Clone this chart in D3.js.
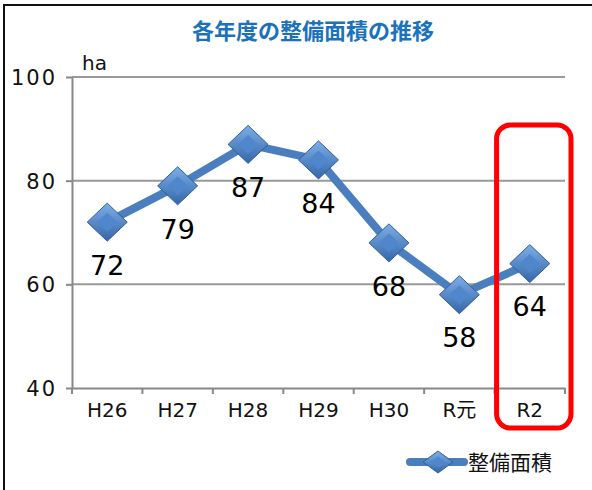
<!DOCTYPE html>
<html>
<head>
<meta charset="utf-8">
<script src="https://cdn.jsdelivr.net/npm/d3@7"></script>
<style>
  body { margin: 0; background: #fff; }
  svg { display: block; }
</style>
</head>
<body>
<div id="chart"></div>
<script>
(function () {

  const years = ['H26', 'H27', 'H28', 'H29', 'H30', 'R元', 'R2'];
  const area = [72, 79, 87, 84, 68, 58, 64];
  const yTicks = [40, 60, 80, 100];
  const highlight = 'R2';

  const width = 592,
    height = 490,
    margin = { top: 77, right: 27, bottom: 102, left: 72 },
    chartWidth = width - margin.left - margin.right,
    chartHeight = height - margin.top - margin.bottom;

  const x = d3.scaleBand().range([0, chartWidth]).domain(years);
  const y = d3.scaleLinear().range([chartHeight, 0]).domain([40, 100]);

  const svg = d3
    .select('#chart')
    .append('svg')
    .attr('width', width)
    .attr('height', height);

  // gradient for the bevelled diamonds
  const defs = svg.append('defs');
  const grad = defs.append('linearGradient')
    .attr('id', 'dia')
    .attr('x1', 0).attr('y1', 0).attr('x2', 0).attr('y2', 1);
  grad.append('stop').attr('offset', '0%').attr('stop-color', '#7eaee6');
  grad.append('stop').attr('offset', '100%').attr('stop-color', '#3467a8');

  // outer frame (only left/top visible)
  svg.append('path')
    .attr('d', `M4,${height + 5} L4,5 L${width + 5},5`)
    .attr('fill', 'none')
    .attr('stroke', '#111')
    .attr('stroke-width', 2);

  svg.append('text')
    .attr('x', 313)
    .attr('y', 39)
    .attr('text-anchor', 'middle')
    .attr('fill', '#1a72bd')
    .style('font-family', '"Noto Sans CJK JP", sans-serif')
    .style('font-weight', 'bold')
    .style('font-size', '22px')
    .text('各年度の整備面積の推移');

  const chart = svg
    .append('g')
    .attr('transform', `translate(${margin.left}, ${margin.top})`);

  // gridlines
  chart.append('g')
    .selectAll('line')
    .data(yTicks.filter(d => d > 40))
    .enter()
    .append('line')
    .attr('x1', 0)
    .attr('x2', chartWidth)
    .attr('y1', d => y(d))
    .attr('y2', d => y(d))
    .attr('stroke', '#999')
    .attr('stroke-width', 2);

  // Y axis
  const yAxis = d3.axisLeft(y).tickValues(yTicks).tickSize(6).tickSizeOuter(0);
  const gy = chart.append('g').call(yAxis);
  gy.select('.domain').attr('stroke', '#888').attr('stroke-width', 2);
  gy.selectAll('.tick line').attr('stroke', '#888').attr('stroke-width', 2);
  gy.selectAll('.tick text')
    .attr('x', -15)
    .attr('dy', '0.36em')
    .attr('fill', '#111')
    .style('font-family', '"DejaVu Sans", sans-serif')
    .style('font-size', '21px')
    .style('letter-spacing', '2px');

  // X axis with ticks at band edges
  const xAxis = d3.axisBottom(x).tickSize(0).tickSizeOuter(0);
  const gx = chart.append('g')
    .attr('transform', `translate(0, ${chartHeight})`)
    .call(xAxis);
  gx.select('.domain').attr('stroke', '#888').attr('stroke-width', 2);
  gx.selectAll('.tick text')
    .attr('y', 29)
    .attr('dy', 0)
    .attr('fill', '#111')
    .style('font-family', '"DejaVu Sans", "Noto Sans CJK JP", sans-serif')
    .style('font-size', '20px');
  gx.selectAll('.edge')
    .data(years.map(d => x(d)).concat([chartWidth]))
    .enter()
    .append('line')
    .attr('class', 'edge')
    .attr('x1', d => d)
    .attr('x2', d => d)
    .attr('y1', 0)
    .attr('y2', 6)
    .attr('stroke', '#888')
    .attr('stroke-width', 2);

  svg.append('text')
    .attr('x', 82)
    .attr('y', 70)
    .attr('fill', '#111')
    .style('font-family', '"DejaVu Sans", sans-serif')
    .style('font-size', '20px')
    .text('ha');

  const cx = d => x(d) + x.bandwidth() / 2;

  // series line
  const line = d3.line()
    .x((d, i) => cx(years[i]))
    .y(d => y(d));

  chart.append('path')
    .datum(area)
    .attr('d', line)
    .attr('fill', 'none')
    .attr('stroke', '#4a7ebf')
    .attr('stroke-width', 8)
    .attr('stroke-linejoin', 'round');

  function diamond(g, rx, ry) {
    g.append('path')
      .attr('d', `M0,${-ry} L${rx},0 L0,${ry} L${-rx},0 Z`)
      .attr('fill', 'url(#dia)')
      .attr('stroke', '#2f5f9e')
      .attr('stroke-width', 1);
    g.append('path')
      .attr('d', `M0,${-ry * 0.5} L${rx * 0.5},0 L0,${ry * 0.5} L${-rx * 0.5},0 Z`)
      .attr('fill', '#4f86cc');
  }

  const pts = chart.selectAll('.pt')
    .data(area)
    .enter()
    .append('g')
    .attr('class', 'pt')
    .attr('transform', (d, i) => `translate(${cx(years[i])}, ${y(d)})`);
  pts.each(function () { diamond(d3.select(this), 20, 19); });

  chart.selectAll('.lbl')
    .data(area)
    .enter()
    .append('text')
    .attr('class', 'lbl')
    .attr('x', (d, i) => cx(years[i]))
    .attr('y', d => y(d) + 43)
    .attr('dy', '0.36em')
    .attr('text-anchor', 'middle')
    .attr('fill', '#000')
    .style('font-family', '"DejaVu Sans", sans-serif')
    .style('font-size', '27px')
    .text(d => d);

  // red highlight box
  chart.append('rect')
    .attr('x', x(highlight) + 2)
    .attr('y', y(100) + 48)
    .attr('width', x.bandwidth() + 4)
    .attr('height', 303)
    .attr('rx', 14)
    .attr('fill', 'none')
    .attr('stroke', '#ff0000')
    .attr('stroke-width', 5);

  // legend
  const lg = svg.append('g').attr('transform', 'translate(407, 462)');
  lg.append('line')
    .attr('x1', 3).attr('x2', 57)
    .attr('y1', 0).attr('y2', 0)
    .attr('stroke', '#4a7ebf')
    .attr('stroke-width', 8)
    .attr('stroke-linecap', 'round');
  diamond(lg.append('g').attr('transform', 'translate(31, 0)'), 15, 11);
  lg.append('text')
    .attr('x', 61)
    .attr('y', 0)
    .attr('dy', '0.36em')
    .attr('fill', '#111')
    .style('font-family', '"Noto Sans CJK JP", sans-serif')
    .style('font-size', '21px')
    .text('整備面積');

})();
</script>
</body>
</html>
